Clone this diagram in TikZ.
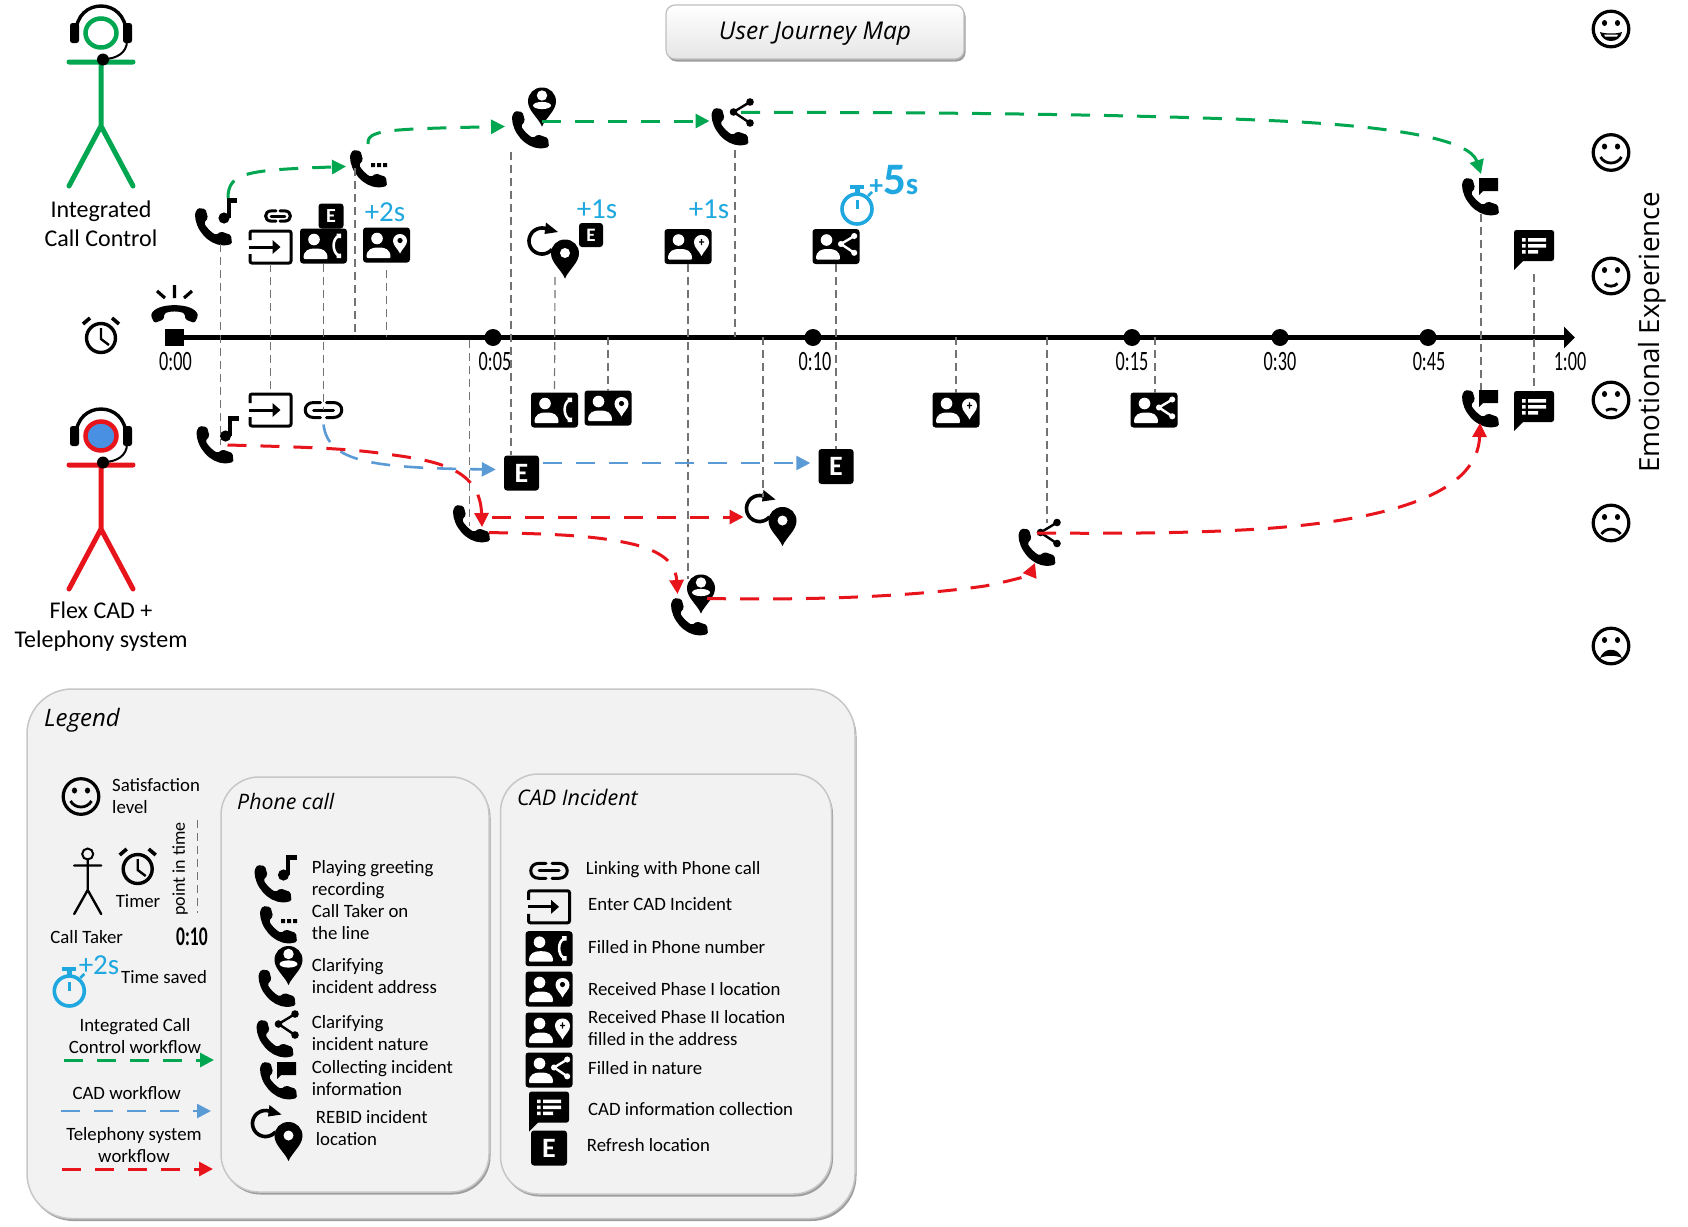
\documentclass[tikz,border=0pt]{standalone}
\usepackage{fontspec}
\setmainfont{Carlito}
\newfontfamily\osans{Open Sans}
\newfontfamily\condf[FakeStretch=0.65]{Carlito}
\usetikzlibrary{arrows.meta,shadows}
\definecolor{cgreen}{HTML}{00A650}
\definecolor{cred}{HTML}{E8141C}
\definecolor{cblue}{HTML}{5B9BD5}
\definecolor{ccyan}{HTML}{1FA8E0}
\definecolor{cpanel}{HTML}{F2F2F2}
\definecolor{cheadb}{HTML}{4A90E2}
\tikzset{
  iconbox/.style={inner sep=0pt,outer sep=0pt,minimum width=#1},
  flow/.style={line width=3pt,dash pattern=on 19pt off 14pt,-{Triangle[length=14pt,width=14pt]}},
  gflow/.style={flow,draw=cgreen},
  bflow/.style={flow,draw=cblue,line width=2.6pt},
  rflow/.style={flow,draw=cred},
  vline/.style={draw=black!55,line width=1.2pt,dash pattern=on 8pt off 5pt},
  ebox/.style={fill=black,text=white,rounded corners=3pt,inner sep=0pt,font=\bfseries},
  panel/.style={draw=black!22,line width=1.5pt,fill=cpanel,inner sep=0pt,drop shadow={shadow xshift=1.5pt,shadow yshift=-2.5pt,fill=black!38,opacity=1}},
  big/.style={font=\fontsize{24}{29}\selectfont,align=center,inner sep=0pt},
  tick/.style={font=\condf\fontsize{28}{28}\selectfont,inner sep=0pt},
  leg/.style={font=\fontsize{18.8}{21.8}\selectfont,align=left,inner sep=0pt,anchor=west,execute at begin node=\strut,execute at end node=\strut},
  legc/.style={font=\fontsize{18.8}{21.8}\selectfont,align=center,inner sep=0pt,execute at begin node=\strut,execute at end node=\strut},
  headt/.style={inner sep=0pt,anchor=west},
  save/.style={font=\fontsize{29}{29}\selectfont,text=ccyan,inner sep=0pt},
  pics/handset/.style={code={
    \fill[rounded corners=1.6pt] (3,0) -- (10.5,1) -- (13,10) -- (9,15) .. controls (12,20) and (16,24) .. (21,27) -- (26,23.5) -- (36,27) -- (37,36) -- (30,37.5) .. controls (13,37) and (0,21) .. (0,5) -- cycle;
  }},
  pics/pin/.style={code={
    \fill[#1] (-14,0) .. controls (-14,-8) and (-8,-14) .. (0,-14) .. controls (8,-14) and (14,-8) .. (14,0) .. controls (14,9) and (4,16) .. (0,25) .. controls (-4,16) and (-14,9) .. (-14,0) -- cycle;
  }},
  pics/pin/.default=black,
  pics/share/.style={code={
    \draw[#1,line width=2.4pt] (16.5,-10) -- (0,0) -- (16.5,11);
    \fill[#1] (16.5,-10) circle[radius=3.8] (0,0) circle[radius=3.8] (16.5,11) circle[radius=3.8];
  }},
  pics/share/.default=black,
  pics/phonenote/.style={code={
    \pic at (-21,-13) {handset};
    \fill (8,-3) circle[radius=5.6];
    \fill (10.5,-23) rectangle (14.5,-3);
    \fill (10.5,-23) rectangle (21,-18);
  }},
  pics/phonedots/.style={code={
    \pic at (-18,-18) {handset};
    \fill (3,-5) rectangle +(4,4) (9,-5) rectangle +(4,4) (15,-5) rectangle +(4,4);
  }},
  pics/phoneplain/.style={code={\pic at (-18,-18) {handset};}},
  pics/phonepin/.style={code={
    \pic at (-22,-6) {handset};
    \pic at (8,-15.5) {pin};
    \fill[white] (8,-21.5) circle[radius=5.2];
    \fill[white] (8,-11.5) ellipse[x radius=9,y radius=3.6];
  }},
  pics/phoneshare/.style={code={
    \pic at (-21.5,-13.5) {handset};
    \pic at (0.5,-9.5) {share};
  }},
  pics/phoneflag/.style={code={
    \pic at (-18,-18) {handset};
    \fill (-1,-18) -- (18,-18) -- (18,-5) -- (3,-5) -- (-1,-1) -- cycle;
  }},
  pics/refreshpin/.style={code={
    \begin{scope}[shift={(-10.5,-10.5)}]
      \draw[line width=3.6pt] plot[smooth,samples=31,domain=-50:-320] ({13*cos(\x)},{13*sin(\x)});
      \fill (4,-18.5) -- (16,-9) -- (2.5,-7) -- cycle;
    \end{scope}
    \pic at (12.5,2) {pin};
    \fill[white] (12.5,1.5) circle[radius=5];
  }},
  pics/cardbase/.style={code={
    \fill[rounded corners=3pt] (-23.5,-17.5) rectangle (23.5,17.5);
    \fill[white] (-9.5,-6.5) circle[radius=5.8];
    \fill[white,rounded corners=1pt] (-20,13) .. controls (-20,4) and (-14,2.5) .. (-8,2.5) .. controls (-2,2.5) and (4,4) .. (4,13) -- cycle;
  }},
  pics/cardphone/.style={code={
    \pic {cardbase};
    \draw[white,line width=2.6pt] (15,-10) .. controls (8.5,-7) and (8.5,6) .. (15,9.5);
    \fill[white] (13,-12.5) rectangle (17.5,-8) (13,7.5) rectangle (17.5,12);
  }},
  pics/cardpin/.style={code={
    \pic {cardbase};
    \pic[scale=0.5] at (13.5,-4) {pin=white};
    \fill (13.5,-4.5) circle[radius=2.6];
  }},
  pics/cardplus/.style={code={
    \pic {cardbase};
    \pic[scale=0.54] at (13.5,-4) {pin=white};
    \fill (11,-5.2) rectangle (16,-3.9) (12.85,-7.6) rectangle (14.15,-1.5);
  }},
  pics/cardshare/.style={code={
    \pic {cardbase};
    \pic[scale=0.8] at (5,-2.5) {share=white};
  }},
  pics/enterbox/.style={code={
    \draw[line width=3pt,rounded corners=2pt] (-20.5,-7) -- (-20.5,-16) -- (20.5,-16) -- (20.5,16) -- (-20.5,16) -- (-20.5,7);
    \draw[line width=3pt] (-21.5,0) -- (3,0);
    \fill (2,-7) -- (10,0) -- (2,7) -- cycle;
  }},
  pics/linkicon/.style={code={
    \draw[line width=3pt,line cap=round] (-3,-7.5) -- (-10,-7.5) .. controls (-21,-7.5) and (-21,7.5) .. (-10,7.5) -- (-3,7.5);
    \draw[line width=3pt,line cap=round] (3,-7.5) -- (10,-7.5) .. controls (21,-7.5) and (21,7.5) .. (10,7.5) -- (3,7.5);
    \draw[line width=3pt,line cap=round] (-10,0) -- (10,0);
  }},
  pics/chatlist/.style={code={
    \fill[rounded corners=2.5pt] (-20,-20) rectangle (20,11);
    \fill (-20,5) -- (-20,20) -- (-8,8) -- cycle;
    \fill[white] (-12,-12) rectangle +(3.5,3.5) (-12,-6) rectangle +(3.5,3.5) (-12,0) rectangle +(3.5,3.5);
    \fill[white] (-6,-12) rectangle +(18,3.5) (-6,-6) rectangle +(18,3.5) (-6,0) rectangle +(10,3.5);
  }},
  pics/clockicon/.style={code={
    \draw[line width=3.4pt] (0,2) circle[radius=14.5];
    \draw[line width=2.4pt] (0,-8) -- (0,3) -- (8,9);
    \draw[line width=3.6pt] (-18,-12) -- (-11,-18) (18,-12) -- (11,-18);
  }},
  pics/ringphone/.style={code={
    \fill[rounded corners=1.5pt] (-23.5,3) .. controls (-20,-11) and (20,-11) .. (23.5,3) -- (20,10) -- (11,6.5) -- (10,0.5) .. controls (5,-2) and (-5,-2) .. (-10,0.5) -- (-11,6.5) -- (-20,10) -- cycle;
    \draw[line width=3.2pt] (0,-28) -- (0,-15) (-17.5,-22) -- (-9.5,-15) (17.5,-22) -- (9.5,-15);
  }},
  pics/stopw/.style={code={
    \draw[ccyan,line width=3.6pt] (0,0) circle[radius=15];
    \draw[ccyan,line width=3pt] (0,-9) -- (0,0);
    \fill[ccyan] (-7,-24) rectangle (7,-20);
    \fill[ccyan] (-2.5,-20) rectangle (2.5,-15);
    \draw[ccyan,line width=2.6pt] (11,-13) -- (15,-17);
  }},
  pics/facebase/.style={code={
    \draw[line width=3.2pt] (0,0) circle[radius=17.8];
    \fill (-6.5,-6) ellipse[x radius=2.6,y radius=3] (6.5,-6) ellipse[x radius=2.6,y radius=3];
  }},
  pics/faceA/.style={code={\pic {facebase};\fill (-11,3) .. controls (-6,5) and (6,5) .. (11,3) .. controls (9,15) and (-9,15) .. (-11,3) -- cycle;\fill[white] (-7,5.5) -- (7,5.5) -- (6,7.5) -- (-6,7.5) -- cycle;}},
  pics/faceB/.style={code={\pic {facebase};\draw[line width=2.8pt] (-10.5,4.5) .. controls (-6,12.5) and (6,12.5) .. (10.5,4.5);}},
  pics/faceC/.style={code={\pic {facebase};\draw[line width=2.8pt] (-6.5,8) .. controls (-3,11) and (3,11) .. (6.5,7.5);}},
  pics/faceD/.style={code={\pic {facebase};\draw[line width=2.6pt] (-5,10.5) .. controls (-2,8.5) and (3,8.5) .. (6,10.5);}},
  pics/faceE/.style={code={\pic {facebase};\draw[line width=2.8pt] (-9.5,11) .. controls (-5,4.5) and (5,4.5) .. (9.5,11);}},
  pics/faceF/.style={code={\pic {facebase};\fill (-11,12) .. controls (-7,1) and (7,1) .. (11,12) .. controls (5,9) and (-5,9) .. (-11,12) -- cycle;}},
  pics/person/.style n args={2}{code={
    \draw[line width=5pt,#1,line cap=round] (-32,29) -- (32,29) (0,29) -- (0,93) (-32,153) -- (0,93) -- (32,153);
    \draw[line width=4.5pt,#1,fill=#2] (0,0) ellipse[x radius=15.5,y radius=14.5];
    \draw[line width=3.4pt] (-25,0) .. controls (-25,-36) and (25,-36) .. (25,0);
    \fill[rounded corners=2.5pt] (-31,-10) rectangle (-22,10) (22,-10) rectangle (31,10);
    \draw[line width=2pt] (26,8) .. controls (26,20) and (15,26) .. (3,26);
    \fill (2,26.5) circle[radius=6];
  }},
  pics/stick/.style={code={
    \draw[line width=2pt] (0,0) circle[radius=5.5];
    \draw[line width=2.4pt,line cap=round] (-13.5,11.5) -- (13.5,11.5) (0,5.5) -- (0,36) (-13.5,60) -- (0,36) -- (13.5,60);
  }},
}
\newcommand{\ico}[5]{\node[iconbox=#4pt,minimum height=#5pt] (#1) at (#2) {}; \pic at (#1) {#3};}
\begin{document}
\begin{tikzpicture}[x=1pt,y=-1pt]
\useasboundingbox (0,0) rectangle (1688,1226);
\fill[white] (0,0) rectangle (1688,1226);

% title
\node[draw=black!25,line width=1.2pt,rounded corners=9pt,top color=white,bottom color=black!10,minimum width=298pt,minimum height=54pt,inner sep=0pt,drop shadow={shadow xshift=1.5pt,shadow yshift=-2.5pt,fill=black!38,opacity=1},font=\osans\itshape\fontsize{24.5}{26}\selectfont] (title) at (815,32) {\raisebox{-1.5pt}[0.7em][0.2em]{User Journey Map}};

% actors
\node[iconbox=66pt,minimum height=180pt] (actG) at (101,96) {};
\pic at (101,33) {person={cgreen}{white}};
\node[big] (lblG) at (101,223.5) {Integrated\\Call Control};
\node[iconbox=66pt,minimum height=180pt] (actR) at (101,499) {};
\pic at (101,436) {person={cred}{cheadb}};
\node[big] (lblR) at (101,627) {Flex CAD +\\Telephony system};

% time line
\coordinate (ax0) at (174.5,337.5);
\coordinate (axE) at (1575,337.5);
\draw[line width=4.6pt,-{Triangle[length=11pt,width=21pt]}] (ax0) -- (axE);
\node[fill=black,minimum width=19pt,minimum height=17pt,inner sep=0pt] (t0) at (ax0) {};
\foreach \nm/\px in {t5/493,t10/813,t15/1132,t30/1280,t45/1428}{
  \node[fill=black,circle,minimum size=17pt,inner sep=0pt] (\nm) at (\px,337.5) {};
}
\node[tick] (l0) at (175.5,361.5) {0:00};
\node[tick] (l5) at (495,361.5) {0:05};
\node[tick] (l10) at (815,361.5) {0:10};
\node[tick] (l15) at (1132,361.5) {0:15};
\node[tick] (l30) at (1280,361.5) {0:30};
\node[tick] (l45) at (1429,361.5) {0:45};
\node[tick] (l60) at (1570,361.5) {1:00};
\ico{clockA}{101,336}{clockicon}{38}{38}
\ico{ring}{174.5,313}{ringphone}{47}{40}

% upper icons
\ico{g1}{216,221}{phonenote}{42}{46}
\ico{g2}{368,168}{phonedots}{36}{36}
\ico{g3}{534,117}{phonepin}{44}{59}
\ico{g4}{733,121.5}{phoneshare}{43}{45}
\ico{g5}{1480,196}{phoneflag}{37}{36}
\node[iconbox=27pt,minimum height=14pt] (ul) at (278,216) {};
\pic[scale=0.68] at (ul) {linkicon};
\ico{ue}{270.5,247}{enterbox}{44}{34}
\node[ebox,minimum size=25pt,font=\bfseries\fontsize{20}{20}\selectfont] (ue1) at (331,216) {E};
\ico{uc1}{323.5,246}{cardphone}{47}{35}
\ico{uc2}{386.5,245}{cardpin}{47}{35}
\node[save] (s1) at (385,212.5) {+2s};
\ico{urp}{552.5,251.5}{refreshpin}{53}{51}
\node[ebox,minimum size=24pt,font=\bfseries\fontsize{19}{19}\selectfont] (ue2) at (591,235) {E};
\node[save] (s2) at (597,209.5) {+1s};
\node[save] (s3) at (709,209.5) {+1s};
\ico{uc3}{688,246.5}{cardplus}{47}{35}
\ico{uc4}{836,246.5}{cardshare}{47}{35}
\ico{sw}{857,209}{stopw}{36}{36}
\node[font=\bfseries,text=ccyan,inner sep=0pt] (s4) at (894,180) {{\fontsize{27}{27}\selectfont +}{\fontsize{45}{45}\selectfont 5}{\fontsize{31}{31}\selectfont s}};
\ico{uch}{1534,250}{chatlist}{40}{40}

% lower icons
\ico{r1}{217.5,439}{phonenote}{42}{46}
\ico{le}{270.5,410}{enterbox}{44}{34}
\ico{ll}{323.5,410}{linkicon}{40}{19}
\ico{lc1}{554.5,410}{cardphone}{47}{35}
\ico{lc2}{608,408}{cardpin}{47}{35}
\node[ebox,minimum size=35pt,font=\bfseries\fontsize{28}{28}\selectfont] (e1) at (521.5,473) {E};
\node[ebox,minimum size=35pt,font=\bfseries\fontsize{28}{28}\selectfont] (e2) at (836,466.5) {E};
\ico{r2}{471,523}{phoneplain}{36}{36}
\ico{r3}{770,519}{refreshpin}{53}{51}
\ico{r4}{693,604}{phonepin}{44}{59}
\ico{r5}{1040,542}{phoneshare}{43}{45}
\ico{lc3}{956,410}{cardplus}{47}{35}
\ico{lc4}{1154,410}{cardshare}{47}{35}
\ico{r6}{1480,408}{phoneflag}{37}{36}
\ico{lch}{1534,411}{chatlist}{40}{40}

% faces
\ico{f1}{1611,29}{faceA}{39}{39}
\ico{f2}{1611,152.5}{faceB}{39}{39}
\ico{f3}{1611,276}{faceC}{39}{39}
\ico{f4}{1611,400}{faceD}{39}{39}
\ico{f5}{1611,523}{faceE}{39}{39}
\ico{f6}{1611,646}{faceF}{39}{39}
\node[rotate=90,font=\osans\fontsize{27.8}{28}\selectfont,inner sep=0pt] (emo) at (1652,332) {Emotional Experience};

% point in time lines
\draw[vline] ([xshift=4.6pt]g1.south) -- ([xshift=3.1pt,yshift=-6pt]r1.center);
\draw[vline] (ue.south) -- (le.north);
\draw[vline] (uc1.south) -- (ll.center);
\coordinate (a4) at (355,337); \draw[vline] ([xshift=-13pt]g2.center) -- (a4);
\coordinate (a5) at (386.5,337); \draw[vline] ([yshift=-7.5pt]uc2.south) -- (a5);
\coordinate (a6) at (469.5,340); \draw[vline] (a6) -- ([xshift=-1.5pt,yshift=-3pt]r2.center);
\draw[vline] ([xshift=-23pt,yshift=-5pt]g3.south) -- ([xshift=-10.5pt]e1.north);
\draw[vline] ([xshift=2.5pt]urp.south) -- (lc1.north);
\coordinate (a9) at (608,337); \draw[vline] (a9) -- (lc2.north);
\draw[vline] (uc3.south) -- ([xshift=-5pt,yshift=-4pt]r4.north);
\coordinate (a11) at (735,337); \draw[vline] ([xshift=2pt,yshift=-6pt]g4.south) -- (a11);
\coordinate (a12) at (763,337); \draw[vline] (a12) -- ([xshift=-7pt,yshift=-3pt]r3.north);
\draw[vline] (uc4.south) -- (e2.north);
\coordinate (a14) at (956,337); \draw[vline] (a14) -- (lc3.north);
\coordinate (a15) at (1047,337); \draw[vline] (a15) -- ([xshift=7pt,yshift=-3.5pt]r5.north);
\coordinate (a16) at (1155,337); \draw[vline] (a16) -- ([xshift=1pt]lc4.north);
\draw[vline] ([xshift=1pt]g5.south) -- ([xshift=1pt]r6.north);
\draw[vline] ([yshift=-4pt]uch.south) -- (lch.north);

% flows
\draw[gflow] ([xshift=12pt]g1.north) .. controls (228,172) and (248,170) .. ([xshift=-4pt,yshift=1.5pt]g2.west);
\draw[gflow] ([yshift=6pt]g2.north) .. controls (367,130) and (385,129) .. ([xshift=-7pt,yshift=-9.5pt]g3.west);
\draw[gflow] ([xshift=8pt,yshift=-4pt]g3.center) -- ([xshift=-2pt,yshift=0.5pt]g4.west);
\draw[gflow] ([xshift=8pt,yshift=9pt]g4.center) .. controls (900,112) and (1150,114) .. (1300,122) .. controls (1400,128) and (1470,140) .. ([xshift=1pt,yshift=4pt]g5.north);
\draw[bflow] ([yshift=-5pt]ll.south) .. controls (328,462) and (372,468) .. ([xshift=-8pt,yshift=3.5pt]e1.west);
\draw[bflow] ([xshift=4pt,yshift=10pt]e1.east) -- ([xshift=-8pt,yshift=3.5pt]e2.west);
\draw[rflow] ([xshift=10pt,yshift=-6pt]r1.center) .. controls (300,447) and (340,448) .. (379,453) .. controls (430,460) and (480,465) .. ([xshift=11pt,yshift=-4pt]r2.center);
\draw[rflow] ([xshift=3pt,yshift=6pt]r2.east) -- ([yshift=2pt]r3.west);
\draw[rflow] ([yshift=-9.5pt]r2.east) .. controls (550,534) and (600,535) .. (640,546) .. controls (672,556) and (676,570) .. ([xshift=-15.5pt,yshift=10pt]r4.center);
\draw[rflow] ([xshift=14pt,yshift=5.5pt]r4.center) .. controls (800,600) and (900,598) .. (985,586) .. controls (1015,580) and (1030,575) .. ([xshift=-5pt,yshift=1.5pt]r5.south);
\draw[rflow] ([xshift=-3pt,yshift=9pt]r5.center) .. controls (1150,534) and (1220,532) .. (1273,528) .. controls (1400,518) and (1478,490) .. ([yshift=3pt]r6.south);

% legend
\node[panel,rounded corners=45pt,minimum width=828pt,minimum height=529.5pt] (legendbox) at (441,953.75) {};
\node[panel,rounded corners=38pt,minimum width=268pt,minimum height=415pt] (phonebox) at (355,984.5) {};
\node[panel,rounded corners=38pt,minimum width=331pt,minimum height=420pt] (cadbox) at (666,984) {};
\node[headt,font=\osans\itshape\fontsize{24}{26}\selectfont] (hLegend) at (44,720) {Legend};
\node[headt,font=\osans\itshape\fontsize{21.3}{24}\selectfont] (hPhone) at (237,801) {Phone call};
\node[headt,font=\osans\itshape\fontsize{21.5}{24}\selectfont] (hCad) at (517,797) {CAD Incident};

\ico{lf}{81,796.5}{faceB}{39}{39}
\node[leg] (tSat) at (112,799.5) {Satisfaction\\level};
\node[iconbox=27pt,minimum height=66pt] (lst) at (87.7,881) {};
\pic at (87.7,854) {stick};
\ico{lclock}{137.7,867}{clockicon}{38}{38}
\node[legc] (tTimer) at (138,903) {Timer};
\node[rotate=90,font=\fontsize{18}{18}\selectfont,inner sep=0pt] (tPoint) at (180,869) {point in time};
\coordinate (pa) at (197.7,820); \coordinate (pb) at (197.7,913);
\draw[vline] (pa) -- (pb);
\node[tick,font=\condf\bfseries\fontsize{27}{27}\selectfont] (tTen) at (192,937) {0:10};
\node[legc] (tCall) at (86.7,939) {Call Taker};
\ico{lsw}{69.3,991}{stopw}{36}{36}
\node[save] (tTwo) at (99,965) {+2s};
\node[leg] (tSaved) at (121,979) {Time saved};
\node[legc] (tIcc) at (135,1039) {Integrated Call\\Control workflow};
\coordinate (ga) at (64,1060); \coordinate (gb) at (214,1060);
\draw[gflow] (ga) -- (gb);
\node[legc] (tCadw) at (126.7,1095) {CAD workflow};
\coordinate (ba) at (61,1111); \coordinate (bb) at (211,1111);
\draw[bflow] (ba) -- (bb);
\node[legc] (tTel) at (134,1148.5) {Telephony system\\workflow};
\coordinate (ra) at (62,1169); \coordinate (rb) at (213,1169);
\draw[rflow] (ra) -- (rb);

\ico{p1}{275.5,878}{phonenote}{42}{46}
\ico{p2}{278,924}{phonedots}{36}{36}
\ico{p3}{280.5,975.5}{phonepin}{44}{59}
\ico{p4}{278,1033.5}{phoneshare}{43}{45}
\ico{p5}{278,1080}{phoneflag}{37}{36}
\ico{p6}{276,1134}{refreshpin}{53}{51}
\node[leg] (x1) at (311.7,881) {Playing greeting\\recording};
\node[leg] (x2) at (311.7,925.5) {Call Taker on\\the line};
\node[leg] (x3) at (311.7,979) {Clarifying\\incident address};
\node[leg] (x4) at (311.7,1036) {Clarifying\\incident nature};
\node[leg] (x5) at (311.7,1081) {Collecting incident\\information};
\node[leg] (x6) at (315.7,1131) {REBID incident\\location};

\node[iconbox=40pt,minimum height=19pt] (c1) at (549,870.8) {};
\pic at (c1) {linkicon};
\ico{c2}{549,906.8}{enterbox}{44}{34}
\ico{c3}{549,948.7}{cardphone}{47}{35}
\ico{c4}{549,989}{cardpin}{47}{35}
\ico{c5}{549,1030}{cardplus}{47}{35}
\ico{c6}{549,1070}{cardshare}{47}{35}
\ico{c7}{549,1111.6}{chatlist}{40}{40}
\node[ebox,minimum width=36pt,minimum height=35pt,font=\bfseries\fontsize{28}{28}\selectfont] (c8) at (549,1148) {E};
\node[leg] (y1) at (585.7,870.5) {Linking with Phone call};
\node[leg] (y2) at (588,906.3) {Enter CAD Incident};
\node[leg] (y3) at (588,949) {Filled in Phone number};
\node[leg] (y4) at (588,991) {Received Phase I location};
\node[leg] (y5) at (588,1031.5) {Received Phase II location\\filled in the address};
\node[leg] (y6) at (588,1070.6) {Filled in nature};
\node[leg] (y7) at (588,1111) {CAD information collection};
\node[leg] (y8) at (586.7,1147) {Refresh location};
\end{tikzpicture}
\end{document}
